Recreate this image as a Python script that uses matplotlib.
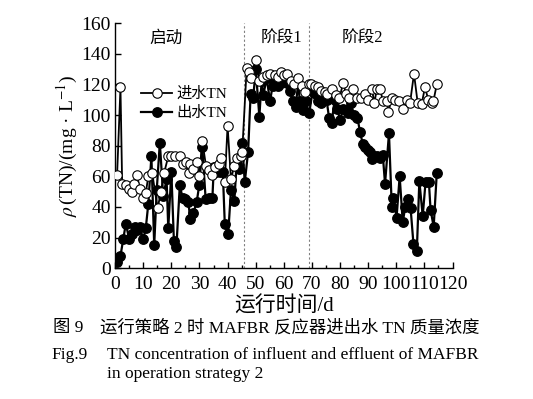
import matplotlib
matplotlib.use("Agg")
import matplotlib.pyplot as plt
from matplotlib.ticker import MultipleLocator

plt.rcParams['font.family'] = ['Liberation Serif', 'Noto Sans CJK SC']
plt.rcParams['mathtext.fontset'] = 'stix'

inf_day = [0.7, 1.9, 2.5, 3.7, 4.8, 5.9, 6.8, 7.8, 8.7, 10.0, 10.9, 11.8, 13.2, 15.1, 16.3,
           17.4, 18.9, 20.0, 21.4, 23.0, 24.0, 25.2, 26.1, 26.8, 27.8, 29.0, 29.9, 31.0,
           32.3, 33.4, 34.4, 35.6, 36.8, 37.6, 39.0, 40.0, 41.2, 42.4, 43.4, 44.6, 45.2,
           46.8, 47.7, 48.5, 50.0, 51.3, 52.7, 54.1, 55.1, 56.9, 58.0, 59.0, 60.1, 61.3,
           62.4, 63.6, 65.1, 66.3, 67.5,
           69.0, 69.8, 71.0, 72.2, 73.4, 74.5, 75.5, 77.0, 78.5, 79.8, 81.1, 82.1, 83.3,
           84.5, 85.9, 87.3, 88.9, 90.1, 91.3, 92.2, 93.1, 94.3, 95.2, 96.6, 97.2, 98.4,
           99.6, 100.8, 102.3, 103.7, 104.9, 106.3, 107.6, 109.0, 110.2, 111.4, 112.6,
           113.2, 114.4]
inf_val = [61, 118, 55, 54, 52, 50, 55, 61, 52, 46, 49, 60, 62, 39, 50,
           62, 73, 73, 73, 73, 68, 69, 62, 68, 65, 69, 60, 83,
           67, 64, 61, 66, 68, 72, 56, 93, 58, 67, 72, 73, 76,
           131, 128, 124, 136, 122, 125, 126, 127, 126, 125, 128, 126, 127,
           122, 120, 124, 119, 115,
           120, 120, 119, 118, 116, 115, 114, 117, 113, 111, 121, 114, 111,
           117, 111, 111, 114, 110, 117, 108, 117, 117, 109, 109, 102, 111,
           110, 109, 104, 110, 108, 127, 108, 107, 118, 110, 108,
           109, 120]

eff_day = [0.7, 1.9, 2.9, 3.8, 5.0, 5.9, 7.0, 7.8, 8.7, 10.0, 10.9, 11.8, 12.9, 13.9, 14.8,
           15.9, 17.1, 18.3, 18.9, 20.0, 20.9, 21.8, 23.0, 24.0, 24.8, 26.0, 26.8, 27.8,
           29.0, 29.9, 31.0, 32.2, 33.4, 34.6, 35.1, 36.0, 37.3, 38.3, 39.0, 40.2, 41.2,
           42.4, 43.2, 44.1, 45.2, 46.1, 47.3, 48.2, 49.1, 50.0, 51.3, 52.1, 52.7, 53.9,
           55.1, 56.0, 56.9, 58.1, 59.0, 60.1, 61.1, 62.2, 63.2, 64.2, 65.1, 65.7, 66.7,
           67.8, 69.0, 70.2, 71.3, 72.2, 73.2, 74.3, 75.2, 76.1, 77.0, 78.1, 79.0, 80.0,
           81.1, 82.1, 82.9, 83.8, 85.0, 86.2, 87.1, 88.1, 88.9, 89.8, 90.7, 91.2, 92.0,
           93.1, 94.1, 95.2, 96.0, 97.4, 98.4, 99.0, 100.1, 101.2, 102.3, 103.2, 104.2,
           105.1, 106.1, 107.3, 108.2, 109.4, 110.4, 111.6, 112.2, 113.3, 114.4]
eff_val = [4, 8, 19, 29, 19, 22, 27, 25, 27, 19, 26, 42, 73, 15, 51,
           82, 47, 58, 26, 63, 18, 14, 54, 46, 45, 43, 32, 36,
           43, 54, 79, 45, 46, 46, 66, 63, 63, 63, 29, 22, 51,
           44, 68, 65, 82, 56, 76, 114, 111, 130, 99, 122, 113, 124,
           109, 119, 121, 119, 121, 122, 121, 116, 109, 105, 121, 109, 103,
           109, 101, 115, 114, 109, 108, 113, 110, 98, 95, 110, 104, 97,
           104, 103, 101, 108, 100, 98, 89, 81, 79, 77, 76, 71, 73,
           73, 72, 74, 55, 88, 40, 46, 33, 60, 30, 40, 45,
           39, 16, 11, 57, 34, 56, 56, 38, 27, 62]

stage_lines = [46, 69]
stage_labels = ['启动', '阶段1', '阶段2']
stage_label_x = [18, 59, 88]

fig = plt.figure(figsize=(5.33, 3.99), dpi=100)
ax = fig.add_axes([0.216, 0.328, 0.633, 0.614])

ax.plot(inf_day, inf_val, '-o', color='black', lw=1.3, ms=6.8,
        mfc='white', mec='black', mew=0.8, label='进水TN', zorder=3)
ax.plot(eff_day, eff_val, '-o', color='black', lw=1.6, ms=6.8,
        mfc='black', mec='black', label='出水TN', zorder=2)

for xv in stage_lines:
    ax.axvline(xv, color='gray', lw=0.8, ls=(0, (2, 2)), zorder=1)
for lab, xv in zip(stage_labels, stage_label_x):
    ax.text(xv, 150, lab, ha='center', va='center', fontsize=12)

ax.set_xlim(0, 120)
ax.set_ylim(0, 160)
ax.xaxis.set_major_locator(MultipleLocator(10))
ax.xaxis.set_minor_locator(MultipleLocator(5))
ax.yaxis.set_major_locator(MultipleLocator(20))
ax.tick_params(direction='in', which='both', labelsize=14, length=4, width=1)
ax.tick_params(which='minor', length=2.5)
ax.tick_params(axis='x', pad=6)
ax.tick_params(axis='y', pad=3)
for s in ['top', 'right']:
    ax.spines[s].set_visible(False)
for s in ['left', 'bottom']:
    ax.spines[s].set_linewidth(1.0)

ax.set_xlabel('运行时间/d', fontsize=15, labelpad=2)
ax.set_ylabel(r'$\rho\,$(TN)/(mg · L$^{-1}$)', fontsize=14, labelpad=1)

ax.legend(loc='upper left', bbox_to_anchor=(0.06, 0.765), frameon=False,
          fontsize=11, handlelength=2.0, handletextpad=0.3, borderaxespad=0,
          labelspacing=0.35)

fig.text(0.099, 0.178, '图 9', ha='left', va='center', fontsize=12.5)
fig.text(0.188, 0.178, '运行策略 2 时 MAFBR 反应器进出水 TN 质量浓度',
         ha='left', va='center', fontsize=12.5)
fig.text(0.096, 0.110, 'Fig.9', ha='left', va='center', fontsize=12.5)
fig.text(0.200, 0.110, 'TN concentration of influent and effluent of MAFBR',
         ha='left', va='center', fontsize=12.5)
fig.text(0.200, 0.062, 'in operation strategy 2', ha='left', va='center', fontsize=12.5)

fig.savefig('out.png', dpi=100)
